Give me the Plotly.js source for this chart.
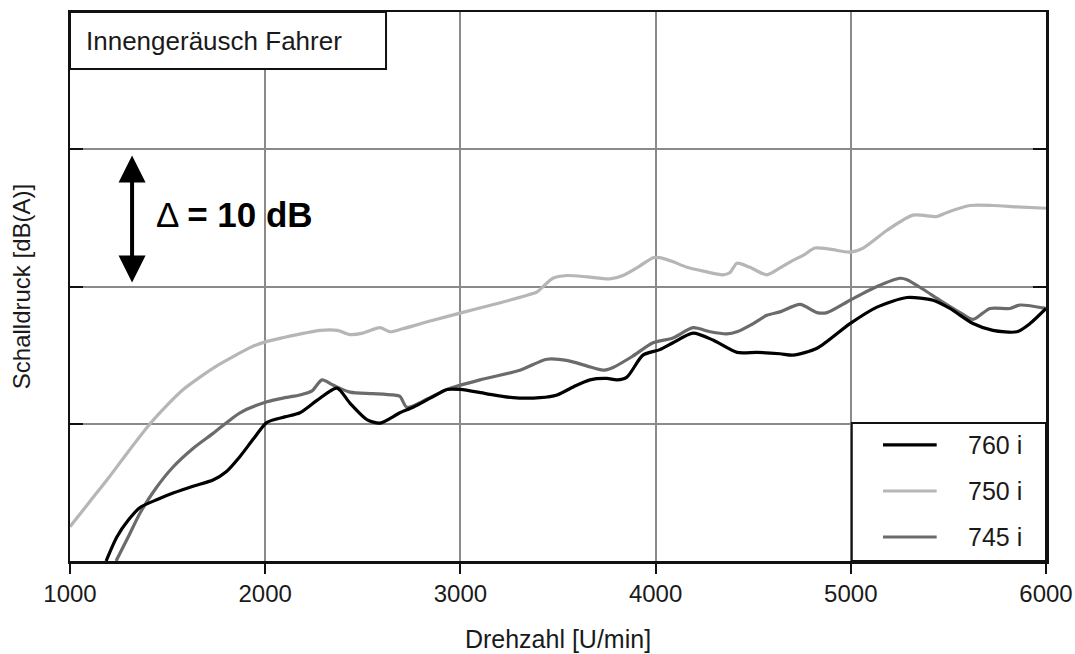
<!DOCTYPE html>
<html>
<head>
<meta charset="utf-8">
<script src="https://cdn.plot.ly/plotly-3.0.1.min.js"></script>
<style>
html,body{margin:0;padding:0;background:#fff;}
#chart{width:1075px;height:654px;}
</style>
</head>
<body>
<div id="chart"></div>
<script>
// ---- data ----
const seriesNames = ["760 i", "750 i", "745 i"];

const rpm760 = [1185, 1240, 1300, 1359, 1450, 1528, 1630, 1733, 1800, 1870, 1940, 2009, 2100, 2178, 2265, 2368, 2434, 2521, 2588, 2690, 2757, 2850, 2931, 3000, 3130, 3269, 3408, 3495, 3580, 3664, 3750, 3802, 3853, 3935, 4022, 4089, 4192, 4294, 4417, 4519, 4637, 4704, 4827, 4996, 5134, 5288, 5421, 5508, 5626, 5728, 5851, 5918, 6000];
const db760  = [0.0, 1.75, 3.0, 3.9, 4.5, 4.95, 5.45, 5.9, 6.5, 7.6, 8.9, 10.1, 10.5, 10.8, 11.7, 12.6, 11.5, 10.3, 10.05, 10.8, 11.2, 11.9, 12.5, 12.5, 12.2, 11.9, 11.9, 12.1, 12.7, 13.2, 13.3, 13.2, 13.4, 15.0, 15.4, 15.9, 16.6, 16.1, 15.2, 15.2, 15.1, 15.0, 15.5, 17.3, 18.5, 19.2, 19.0, 18.4, 17.3, 16.8, 16.7, 17.3, 18.4];

const rpm750 = [1000, 1100, 1200, 1300, 1410, 1500, 1580, 1666, 1750, 1850, 1930, 2009, 2100, 2200, 2281, 2370, 2434, 2500, 2588, 2640, 2700, 2850, 3008, 3200, 3350, 3392, 3474, 3546, 3650, 3766, 3833, 3920, 3987, 4022, 4090, 4161, 4250, 4345, 4380, 4417, 4483, 4570, 4637, 4704, 4760, 4816, 4900, 4996, 5063, 5186, 5319, 5442, 5493, 5610, 5728, 5850, 6000];
const db750  = [2.5, 4.3, 6.1, 8.0, 10.0, 11.4, 12.5, 13.4, 14.2, 15.0, 15.6, 16.0, 16.3, 16.6, 16.8, 16.8, 16.5, 16.6, 17.0, 16.7, 16.9, 17.5, 18.1, 18.8, 19.4, 19.6, 20.6, 20.8, 20.7, 20.55, 20.8, 21.5, 22.1, 22.1, 21.8, 21.4, 21.1, 20.85, 21.0, 21.7, 21.4, 20.85, 21.35, 21.9, 22.3, 22.8, 22.7, 22.5, 22.8, 24.1, 25.2, 25.1, 25.4, 25.9, 25.9, 25.8, 25.7];

const rpm745 = [1236, 1300, 1359, 1440, 1528, 1630, 1733, 1871, 2009, 2100, 2178, 2240, 2291, 2350, 2434, 2550, 2655, 2690, 2726, 2830, 2931, 3100, 3305, 3443, 3550, 3650, 3730, 3782, 3880, 3987, 4089, 4192, 4280, 4365, 4417, 4500, 4570, 4637, 4740, 4827, 4878, 4996, 5134, 5252, 5288, 5370, 5457, 5560, 5626, 5713, 5816, 5867, 6000];
const db745  = [0.0, 1.8, 3.5, 5.3, 6.85, 8.2, 9.3, 10.8, 11.6, 11.9, 12.1, 12.4, 13.2, 12.8, 12.3, 12.2, 12.1, 12.0, 11.2, 11.8, 12.5, 13.2, 13.9, 14.7, 14.6, 14.2, 13.9, 14.1, 14.9, 15.9, 16.25, 17.0, 16.7, 16.55, 16.7, 17.3, 17.9, 18.15, 18.7, 18.1, 18.1, 19.0, 20.0, 20.6, 20.5, 19.8, 19.0, 18.1, 17.6, 18.4, 18.4, 18.65, 18.4];

const xTicks = [1000, 2000, 3000, 4000, 5000, 6000];
const yGrid  = [0, 10, 20, 30, 40];

const panelTitle = "Innengeräusch Fahrer";
const deltaSymbol = "Δ";
const deltaLabel = "= 10 dB";
const xTitle = "Drehzahl [U/min]";
const yTitle = "Schalldruck [dB(A)]";

// ---- styles ----
const colors = {"760 i": "#000000", "750 i": "#b6b6b6", "745 i": "#6b6b6b"};
const FONT = "Liberation Sans, Arial, sans-serif";
const TXT = "#1a1a1a";

const mk = (x, y, name) => ({
  x: x, y: y, name: name, type: "scatter", mode: "lines",
  line: {color: colors[name], width: 3.2, shape: "spline", smoothing: 0.7},
  showlegend: false, hoverinfo: "x+y+name"
});

const traces = [
  mk(rpm750, db750, "750 i"),
  mk(rpm745, db745, "745 i"),
  mk(rpm760, db760, "760 i")
];

// custom legend box (bottom-right, like the reference)
const legX0 = 0.801, legLine0 = 0.833, legLine1 = 0.888, legText = 0.918;
const legRowsY = [0.2115, 0.1275, 0.0437];
const shapes = [
  {type: "rect", xref: "paper", yref: "paper", x0: 0, x1: 0.3238, y0: 0.896, y1: 1,
   fillcolor: "#ffffff", line: {color: "#111", width: 2}, layer: "above"},
  {type: "rect", xref: "paper", yref: "paper", x0: legX0, x1: 1, y0: 0, y1: 0.2514,
   fillcolor: "#ffffff", line: {color: "#111", width: 2}, layer: "above"}
];
const annotations = [
  {xref: "paper", yref: "paper", x: 0.014, y: 0.947, xanchor: "left", yanchor: "middle",
   text: panelTitle, showarrow: false, font: {family: FONT, size: 26, color: TXT}},
  {xref: "paper", yref: "paper", x: 0.086, y: 0.632, xanchor: "left", yanchor: "middle",
   text: deltaSymbol + " <b>" + deltaLabel + "</b>", showarrow: false, font: {family: FONT, size: 35, color: "#000"}},
  {xref: "x", yref: "y", x: 1318, y: 20.3, axref: "x", ayref: "y", ax: 1318, ay: 29.65,
   text: "", showarrow: true, arrowside: "end+start", arrowhead: 2, startarrowhead: 2,
   arrowsize: 1.35, startarrowsize: 1.35, arrowwidth: 4, arrowcolor: "#000", standoff: 0, startstandoff: 0}
];
seriesNames.forEach((n, i) => {
  shapes.push({type: "line", xref: "paper", yref: "paper", x0: legLine0, x1: legLine1,
    y0: legRowsY[i], y1: legRowsY[i], line: {color: colors[n], width: 3.2}, layer: "above"});
  annotations.push({xref: "paper", yref: "paper", x: legText, y: legRowsY[i], xanchor: "left", yanchor: "middle",
    text: n, showarrow: false, font: {family: FONT, size: 25, color: TXT}});
});

const layout = {
  width: 1075, height: 654,
  margin: {l: 70, r: 29, t: 12, b: 93},
  paper_bgcolor: "#ffffff", plot_bgcolor: "#ffffff",
  font: {family: FONT, color: TXT},
  xaxis: {
    range: [1000, 6000], tickvals: xTicks, ticktext: xTicks.map(String),
    showgrid: true, gridcolor: "#8a8a8a", gridwidth: 2,
    showline: true, linecolor: "#111", linewidth: 2.5, mirror: true,
    ticks: "outside", ticklen: 10, tickwidth: 2, tickcolor: "#111",
    tickfont: {family: FONT, size: 24, color: TXT},
    zeroline: false,
    title: {text: xTitle, font: {family: FONT, size: 25, color: TXT}, standoff: 24}
  },
  yaxis: {
    range: [0, 40], tickvals: yGrid, showticklabels: false,
    showgrid: true, gridcolor: "#8a8a8a", gridwidth: 2,
    showline: true, linecolor: "#111", linewidth: 2.5, mirror: "ticks",
    ticks: "inside", ticklen: 13, tickwidth: 2, tickcolor: "#111",
    zeroline: false,
    title: {text: yTitle, font: {family: FONT, size: 24, color: TXT}, standoff: 30}
  },
  shapes: shapes,
  annotations: annotations
};

Plotly.newPlot("chart", traces, layout, {displayModeBar: false, staticPlot: true});
</script>
</body>
</html>
